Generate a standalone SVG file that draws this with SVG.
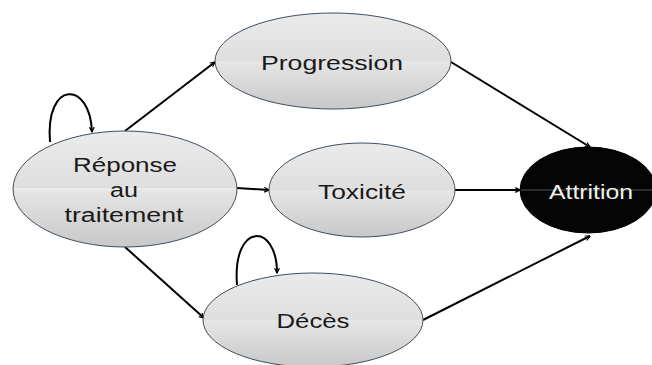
<svg xmlns="http://www.w3.org/2000/svg" width="652" height="365" viewBox="0 0 652 365">
<defs>
<linearGradient id="g" x1="0" y1="0" x2="0" y2="1">
<stop offset="0" stop-color="#ebebeb"/>
<stop offset="0.5" stop-color="#dedede"/>
<stop offset="0.5" stop-color="#e6e6e6"/>
<stop offset="1" stop-color="#c8c8c8"/>
</linearGradient>
<marker id="a" viewBox="0 0 10 10" refX="9" refY="5" markerWidth="5" markerHeight="5" orient="auto" markerUnits="userSpaceOnUse">
<path d="M1,1 L9,5 L1,9" fill="none" stroke="#000" stroke-width="2"/>
</marker>
<marker id="b" viewBox="0 0 10 10" refX="9" refY="5" markerWidth="6" markerHeight="6" orient="auto" markerUnits="userSpaceOnUse">
<path d="M1,1 L9,5 L1,9" fill="none" stroke="#000" stroke-width="2"/>
</marker>
</defs>
<style>
.n{fill:url(#g);stroke:#3e4e5e;stroke-width:1}
.t{font-family:"Liberation Sans",Arial,sans-serif;font-size:20px;fill:#1a1a1a;text-anchor:middle}
.w{fill:#f4f0ec}
.c{fill:none;stroke:#000;stroke-width:2}
</style>
<rect width="652" height="365" fill="#fff"/>
<g id="connectors">
<path class="c" d="M125,131 L215,62" marker-end="url(#b)"/>
<path class="c" d="M237,188 L269,190" marker-end="url(#b)"/>
<path class="c" d="M125,247 L204,318" marker-end="url(#b)"/>
<path class="c" d="M451,62 L590,147" marker-end="url(#b)"/>
<path class="c" d="M455,190 L520,190" marker-end="url(#b)"/>
<path class="c" d="M423,320 L590,236" marker-end="url(#b)"/>
<path class="c" d="M50,142 C45,80 90,80 92,132" marker-end="url(#b)"/>
<path class="c" d="M237,285 C232,222 277,222 277,273" marker-end="url(#b)"/>
</g>
<g id="reponse">
<ellipse class="n" cx="125" cy="189" rx="112" ry="58"/>
<line x1="14" y1="189" x2="236" y2="189" stroke="#f2f2f2" stroke-width="1"/>
<text class="t" x="125" y="172" textLength="104" lengthAdjust="spacingAndGlyphs">Réponse</text>
<text class="t" x="124" y="197" textLength="28" lengthAdjust="spacingAndGlyphs">au</text>
<text class="t" x="124" y="222" textLength="119" lengthAdjust="spacingAndGlyphs">traitement</text>
</g>
<g id="progression">
<ellipse class="n" cx="333" cy="61" rx="118" ry="48"/>
<text class="t" x="332" y="70" textLength="142" lengthAdjust="spacingAndGlyphs">Progression</text>
</g>
<g id="toxicite">
<ellipse class="n" cx="362" cy="190" rx="93" ry="47"/>
<text class="t" x="362" y="199" textLength="88" lengthAdjust="spacingAndGlyphs">Toxicité</text>
</g>
<g id="deces">
<ellipse class="n" cx="313" cy="320" rx="110" ry="47"/>
<text class="t" x="313" y="328" textLength="73" lengthAdjust="spacingAndGlyphs">Décès</text>
</g>
<g id="attrition">
<ellipse cx="588" cy="190" rx="68" ry="43" fill="#050505" stroke="#000"/>
<line x1="521" y1="190" x2="652" y2="190" stroke="#555" stroke-width="1"/>
<text class="t w" x="591" y="199" textLength="84" lengthAdjust="spacingAndGlyphs">Attrition</text>
</g>
</svg>
